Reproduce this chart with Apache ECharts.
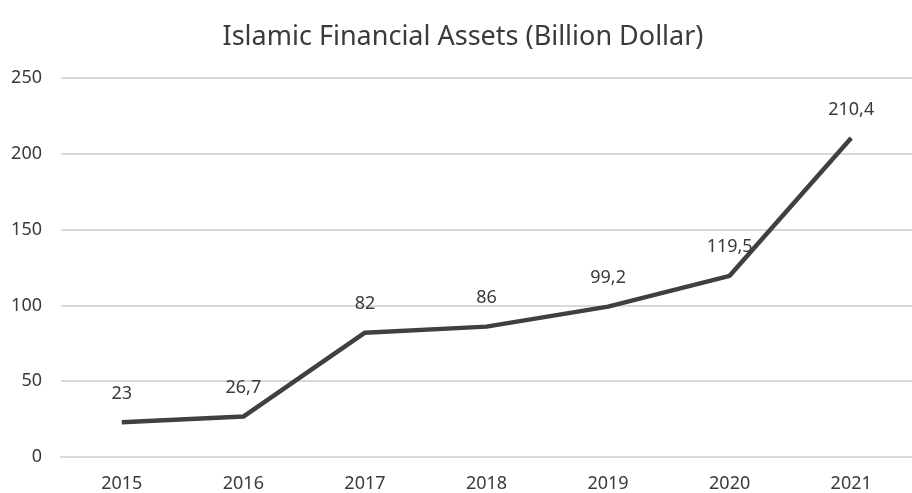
<!DOCTYPE html>
<html><head><meta charset="utf-8">
<script src="https://cdn.jsdelivr.net/npm/echarts@6/dist/echarts.min.js"></script>
<style>html,body{margin:0;padding:0;background:#fff}#c{width:912px;height:493px}</style>
</head><body><div id="c"></div>
<script>
const categories = ['2015','2016','2017','2018','2019','2020','2021'];
const values = [23, 26.7, 82, 86, 99.2, 119.5, 210.4];
const yTicks = {min: 0, max: 250, interval: 50};
const titleText = 'Islamic Financial Assets (Billion Dollar)';

const chart = echarts.init(document.getElementById('c'));
chart.setOption({
  animation: false,
  backgroundColor: '#fff',
  title: {text: titleText, left: 458, top: 19, textAlign: 'center',
    textStyle: {fontFamily: 'Noto Sans', fontSize: 27, fontWeight: 'normal', color: '#3a3a3a'}},
  grid: {left: 61, right: -14, top: 78, bottom: 36, containLabel: false},
  xAxis: {type: 'category', data: categories, boundaryGap: true,
    axisLine: {show: true, lineStyle: {color: '#d9d9d9', width: 2}},
    axisTick: {show: false},
    axisLabel: {fontFamily: 'Noto Sans', fontSize: 18, color: '#3a3a3a', margin: 18}},
  yAxis: {type: 'value', min: yTicks.min, max: yTicks.max, interval: yTicks.interval,
    axisLine: {show: false}, axisTick: {show: false},
    splitLine: {lineStyle: {color: '#d9d9d9', width: 2}},
    axisLabel: {fontFamily: 'Noto Sans', fontSize: 18, color: '#3a3a3a', margin: 19}},
  series: [{type: 'line', data: values, symbol: 'circle', symbolSize: 1, showSymbol: true,
    itemStyle: {color: 'rgba(0,0,0,0)'},
    lineStyle: {color: '#404040', width: 4.5},
    label: {show: true, position: 'top', distance: 19,
      fontFamily: 'Noto Sans', fontSize: 18, color: '#3a3a3a',
      formatter: p => String(p.value).replace('.', ',')}}]
});
</script></body></html>
